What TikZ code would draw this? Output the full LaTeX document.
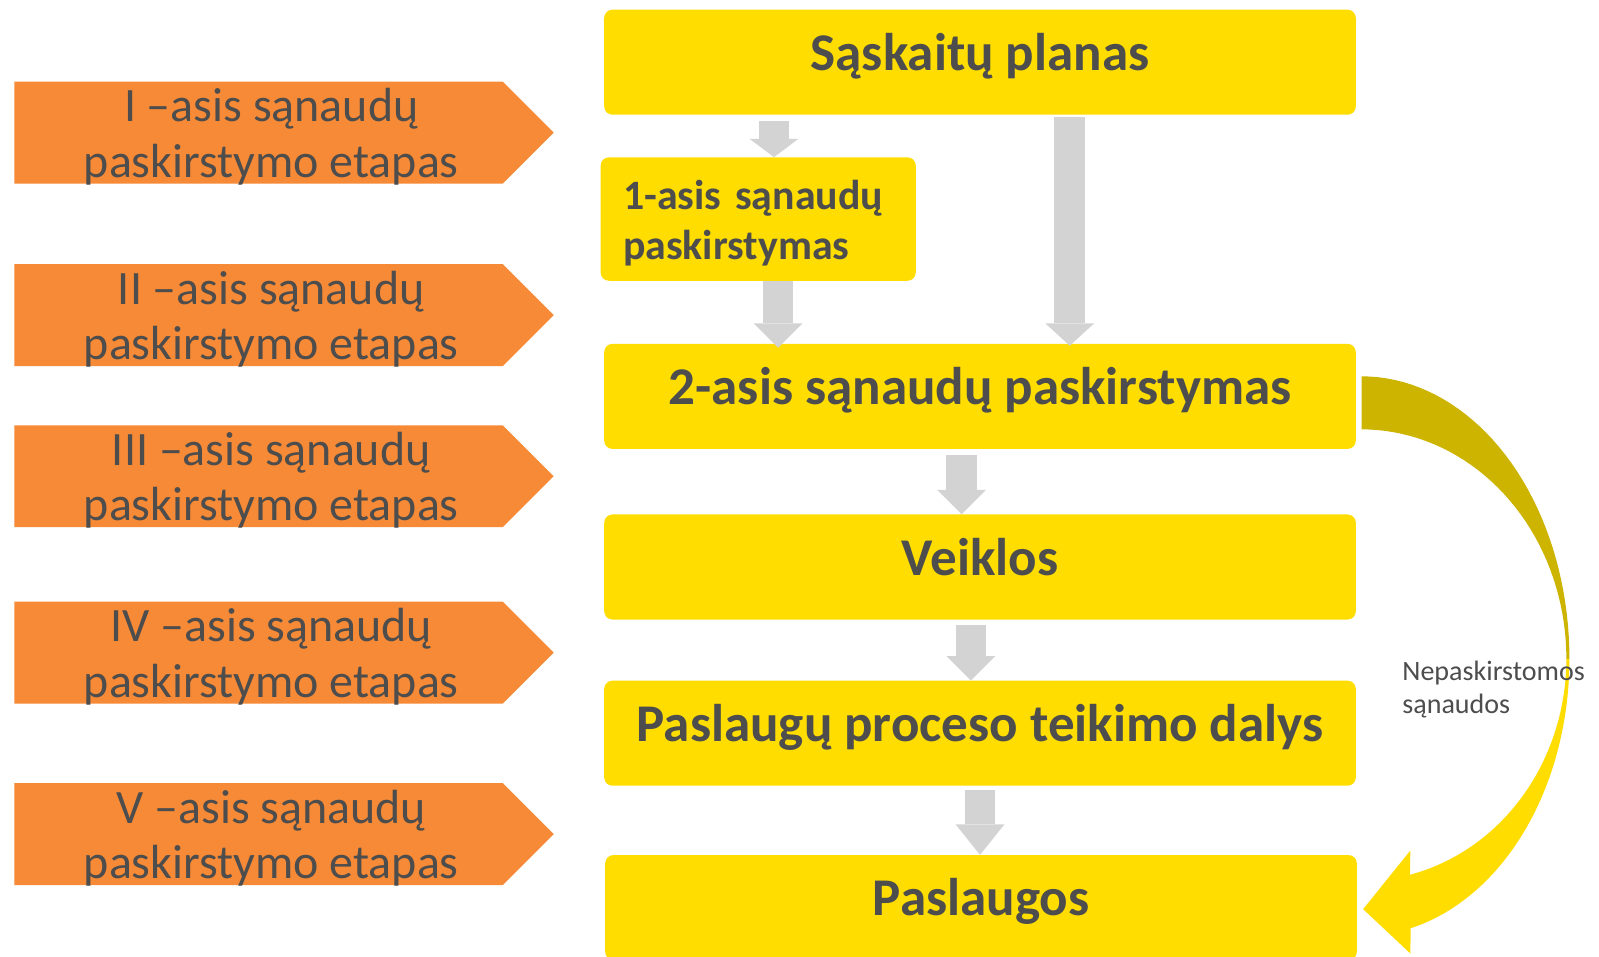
\documentclass[tikz,border=0pt]{standalone}
\usepackage{fontspec}
\setmainfont{Carlito}
\usetikzlibrary{arrows.meta}

\definecolor{boxyellow}{RGB}{255,221,0}
\definecolor{ribbondark}{RGB}{204,180,0}
\definecolor{stageorange}{RGB}{246,138,54}
\definecolor{flowgrey}{RGB}{211,211,211}
\definecolor{textgrey}{RGB}{77,77,77}

\tikzset{
  box/.style={fill=boxyellow, rounded corners=8pt, inner sep=0pt, text=textgrey},
  widebox/.style={box, minimum width=737pt, minimum height=103pt,
    font=\fontsize{52}{60}\selectfont\bfseries, text height=32pt, text depth=16pt},
  stage/.style={text=textgrey, align=center, inner sep=0pt, font=\fontsize{47}{54.5}\selectfont},
  flow/.style={draw=flowgrey, line width=30pt, -{Triangle[width=48pt,length=#1,line width=0pt]}},
  flow/.default=24pt
}

\begin{document}
\begin{tikzpicture}[x=1pt,y=-1pt]
        \fill[white] (0,0) rectangle (1568,938);
        \useasboundingbox (0,0) rectangle (1568,938);

        % Stages on the left
        \fill[stageorange] (14,80) -- ++(479,0) -- ++(50,50) -- ++(-50,50) -- ++(-479,0) -- cycle;
        \fill[stageorange] (14,259) -- ++(479,0) -- ++(50,50) -- ++(-50,50) -- ++(-479,0) -- cycle;
        \fill[stageorange] (14,417) -- ++(479,0) -- ++(50,50) -- ++(-50,50) -- ++(-479,0) -- cycle;
        \fill[stageorange] (14,590) -- ++(479,0) -- ++(50,50) -- ++(-50,50) -- ++(-479,0) -- cycle;
        \fill[stageorange] (14,768) -- ++(479,0) -- ++(50,50) -- ++(-50,50) -- ++(-479,0) -- cycle;

        \node[stage] (E1) at (266,134) {I –asis sąnaudų\\paskirstymo etapas};
        \node[stage] (E2) at (266,313) {II –asis sąnaudų\\paskirstymo etapas};
        \node[stage] (E3) at (266,471) {III –asis sąnaudų\\paskirstymo etapas};
        \node[stage] (E4) at (266,644) {IV –asis sąnaudų\\paskirstymo etapas};
        \node[stage] (E5) at (266,822) {V –asis sąnaudų\\paskirstymo etapas};

        % Boxes
        \node[widebox] (SP) at (961,61) {Sąskaitų planas};
        \node[box, minimum width=309pt, minimum height=121pt, text width=265pt, inner xsep=22pt,
              align=left, font=\fontsize{41}{48.5}\selectfont\bfseries] (P1) at (743.5,214.8)
              {\rule{0pt}{37pt}1-asis sąnaudų\\paskirstymas};
        \node[widebox] (P2) at (961,388.7) {2-asis sąnaudų paskirstymas};
        \node[widebox] (VK) at (961,556) {Veiklos};
        \node[widebox] (PD) at (961,719) {Paslaugų proceso teikimo dalys};
        \node[widebox] (PL) at (962,890) {Paslaugos};

        % Grey flow arrows
        \draw[flow=18pt] ([xshift=-202pt,yshift=-6pt]SP.south) -- ([xshift=15.5pt]P1.north);
        \draw[flow] ([xshift=19.5pt]P1.south) -- ([xshift=-198pt,yshift=-4pt]P2.north);
        \draw[flow=22pt] ([xshift=88pt,yshift=-2pt]SP.south) -- ([xshift=88pt,yshift=-2pt]P2.north);
        \draw[flow] ([xshift=-18pt,yshift=-6pt]P2.south) -- ([xshift=-18pt]VK.north);
        \draw[flow] ([xshift=-9pt,yshift=-5pt]VK.south) -- ([xshift=-9pt]PD.north);
        \draw[flow=30pt] ([yshift=-4pt]PD.south) -- ([xshift=-1pt]PL.north);

        % Curved ribbon from 2-asis to Paslaugos
        \fill[ribbondark] ([xshift=5.5pt,yshift=19.7pt]P2.east)
            -- plot[domain=90:0,samples=40] ({1335+204*cos(\x)},{646-277*sin(\x)})
            -- plot[domain=0:90,samples=40] ({1335+201*cos(\x)},{646-225*sin(\x)})
            -- ([xshift=5.5pt,yshift=-32pt]P2.east) -- cycle;
        \fill[boxyellow] plot[domain=0:-76.3,samples=40] ({1335+204*cos(\x)},{646-272*sin(\x)})
            -- (1383,935) -- ([xshift=6pt,yshift=-1.5pt]PL.east) -- (1383,834)
            -- plot[domain=-76.3:0,samples=40] ({1335+201*cos(\x)},{646-218*sin(\x)}) -- cycle;

        \node[anchor=west, align=left, inner sep=0pt, text=textgrey,
              font=\fontsize{27.5}{32}\selectfont] (NS) at (1375,676) {Nepaskirstomos\\sąnaudos};

\end{tikzpicture}
\end{document}
